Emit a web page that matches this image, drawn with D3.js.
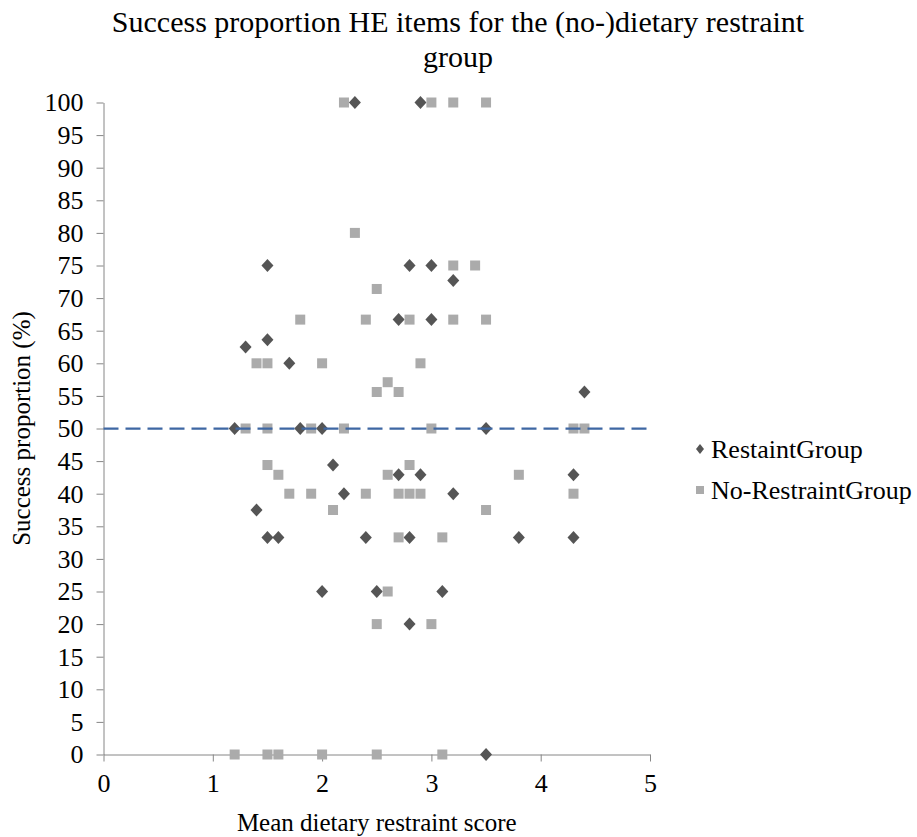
<!DOCTYPE html>
<html>
<head>
<meta charset="utf-8">
<script src="https://cdn.jsdelivr.net/npm/d3@7"></script>
<style>
  html, body { margin: 0; padding: 0; background: #ffffff; }
  svg { display: block; }
  text { font-family: "Liberation Serif", "Times New Roman", serif; fill: #000; }
</style>
</head>
<body>
<svg id="chart" width="917" height="837"></svg>
<script>
// ---- Data ----
const titleLines = ["Success proportion HE items for the (no-)dietary restraint", "group"];
const xLabel = "Mean dietary restraint score";
const yLabel = "Success proportion (%)";
const seriesNames = ["RestaintGroup", "No-RestraintGroup"];
const xTicks = [0, 1, 2, 3, 4, 5];
const yTicks = [0, 5, 10, 15, 20, 25, 30, 35, 40, 45, 50, 55, 60, 65, 70, 75, 80, 85, 90, 95, 100];
const referenceLevel = 50;

const restraintX = [2.3, 2.9, 1.5, 2.8, 3.0, 3.2, 2.7, 3.0, 1.5, 1.3, 1.7, 4.4, 1.2, 1.8, 2.0, 3.5,
  2.1, 2.7, 2.9, 4.3, 2.2, 3.2, 1.4, 1.5, 1.6, 2.4, 2.8, 3.8, 4.3, 2.0, 2.5, 3.1, 2.8, 3.5];
const restraintY = [100, 100, 75, 75, 75, 72.7, 66.7, 66.7, 63.6, 62.5, 60, 55.6, 50, 50, 50, 50,
  44.4, 42.9, 42.9, 42.9, 40, 40, 37.5, 33.3, 33.3, 33.3, 33.3, 33.3, 33.3, 25, 25, 25, 20, 0];

const noRestraintX = [2.2, 3.0, 3.2, 3.5, 2.3, 3.2, 3.4, 2.5, 1.8, 2.4, 2.8, 3.2, 3.5, 1.4, 1.5, 2.0,
  2.9, 2.6, 2.5, 2.7, 1.3, 1.5, 1.9, 2.2, 3.0, 4.3, 4.4, 1.5, 2.8, 1.6, 2.6, 3.8, 1.7, 1.9, 2.4,
  2.7, 2.8, 2.9, 4.3, 2.1, 3.5, 2.7, 3.1, 2.6, 2.5, 3.0, 1.2, 1.5, 1.6, 2.0, 2.5, 3.1];
const noRestraintY = [100, 100, 100, 100, 80, 75, 75, 71.4, 66.7, 66.7, 66.7, 66.7, 66.7, 60, 60, 60,
  60, 57.1, 55.6, 55.6, 50, 50, 50, 50, 50, 50, 50, 44.4, 44.4, 42.9, 42.9, 42.9, 40, 40, 40,
  40, 40, 40, 40, 37.5, 37.5, 33.3, 33.3, 25, 20, 20, 0, 0, 0, 0, 0, 0];

// ---- Layout / style ----
const plot = { left: 103.5, right: 650, top: 102.5, bottom: 754.5 };
const axisColor = "#868686";
const restraintColor = "#555555";
const noRestraintColor = "#ababab";
const refColor = "#3e67a3";
const serif = "'Liberation Serif', 'Times New Roman', serif";

const svg = d3.select("#chart");

const x = d3.scaleLinear().domain([0, 5]).range([plot.left, plot.right]);
const y = d3.scaleLinear().domain([0, 100]).range([plot.bottom, plot.top]);

// Title
svg.append("g").selectAll("text").data(titleLines).join("text")
  .attr("x", 458)
  .attr("y", (d, i) => 32 + i * 35)
  .attr("text-anchor", "middle")
  .attr("font-family", serif)
  .style("font-size", "30px")
  .text(d => d);

// Y axis
const yAxis = svg.append("g")
  .attr("transform", `translate(${plot.left},0)`)
  .call(d3.axisLeft(y).tickValues(yTicks).tickSize(7).tickSizeOuter(0).tickPadding(13))
  .attr("font-family", serif)
  .attr("font-size", 26);
yAxis.select(".domain").attr("stroke", axisColor).attr("stroke-width", 1);
yAxis.selectAll(".tick line").attr("stroke", axisColor).attr("stroke-width", 1);
yAxis.selectAll(".tick text").attr("fill", "#000");

// X axis
const xAxis = svg.append("g")
  .attr("transform", `translate(0,${plot.bottom})`)
  .call(d3.axisBottom(x).tickValues(xTicks).tickFormat(d3.format("d")).tickSize(7).tickSizeOuter(0).tickPadding(12))
  .attr("font-family", serif)
  .attr("font-size", 26);
xAxis.select(".domain").attr("stroke", axisColor).attr("stroke-width", 1);
xAxis.selectAll(".tick line").attr("stroke", axisColor).attr("stroke-width", 1);
xAxis.selectAll(".tick text").attr("fill", "#000");

// Axis titles
svg.append("text")
  .attr("x", (plot.left + plot.right) / 2)
  .attr("y", 831)
  .attr("text-anchor", "middle")
  .attr("font-family", serif)
  .style("font-size", "25px")
  .text(xLabel);

svg.append("text")
  .attr("transform", `translate(30,${(plot.top + plot.bottom) / 2}) rotate(-90)`)
  .attr("text-anchor", "middle")
  .attr("font-family", serif)
  .style("font-size", "25px")
  .text(yLabel);

// Series
const restraint = restraintX.map((v, i) => ({ x: v, y: restraintY[i] }));
const noRestraint = noRestraintX.map((v, i) => ({ x: v, y: noRestraintY[i] }));

const diamond = (cx, cy, w, h) => `M${cx},${cy - h / 2}L${cx + w / 2},${cy}L${cx},${cy + h / 2}L${cx - w / 2},${cy}Z`;

svg.append("g").selectAll("path").data(restraint).join("path")
  .attr("d", d => diamond(x(d.x), y(d.y), 12, 13))
  .attr("fill", restraintColor);

svg.append("g").selectAll("rect").data(noRestraint).join("rect")
  .attr("x", d => x(d.x) - 5)
  .attr("y", d => y(d.y) - 5)
  .attr("width", 10)
  .attr("height", 10)
  .attr("fill", noRestraintColor);

// Reference line at 50 %
svg.append("line")
  .attr("x1", x(0)).attr("x2", x(5))
  .attr("y1", y(referenceLevel)).attr("y2", y(referenceLevel))
  .attr("stroke", refColor)
  .attr("stroke-width", 2.25)
  .attr("stroke-dasharray", "15,7");

// Legend
const legend = svg.append("g").attr("font-family", serif);
legend.append("path")
  .attr("d", diamond(700, 449, 8, 10))
  .attr("fill", restraintColor);
legend.append("text")
  .attr("x", 711).attr("y", 458)
  .style("font-size", "26px")
  .text(seriesNames[0]);
legend.append("rect")
  .attr("x", 696).attr("y", 486).attr("width", 8).attr("height", 8)
  .attr("fill", noRestraintColor);
legend.append("text")
  .attr("x", 711).attr("y", 499)
  .style("font-size", "26px")
  .text(seriesNames[1]);
</script>
</body>
</html>
